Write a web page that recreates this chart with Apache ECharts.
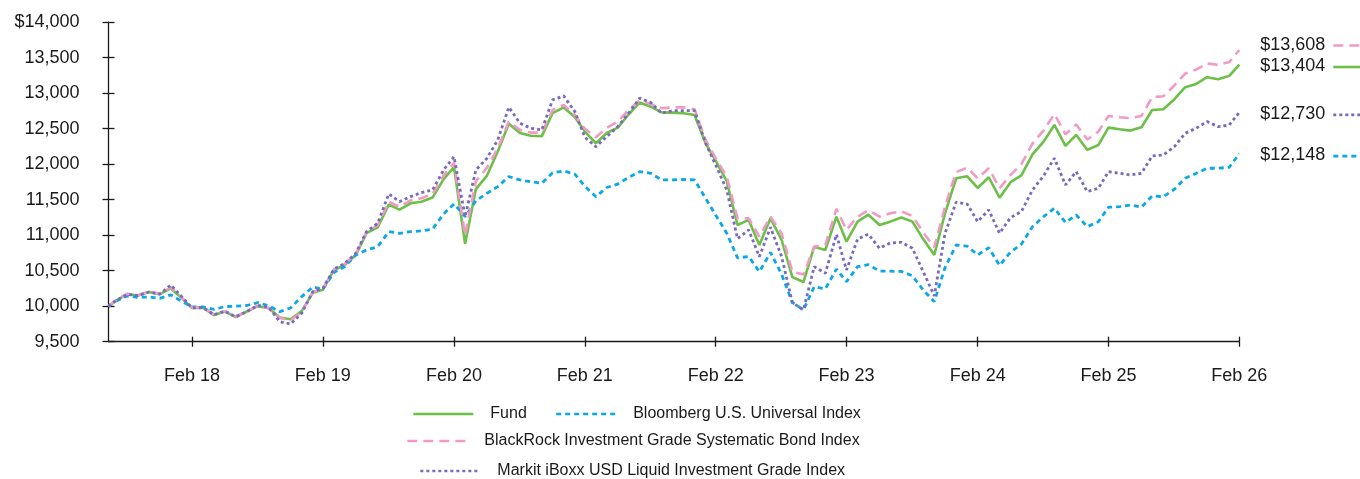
<!DOCTYPE html>
<html>
<head>
<meta charset="utf-8">
<script src="https://cdn.jsdelivr.net/npm/echarts@6/dist/echarts.min.js"></script>
<style>
  html, body { margin: 0; padding: 0; background: #fff; }
  #chart { width: 1360px; height: 479px; }
</style>
</head>
<body>
<div id="chart"></div>
<script>
// growth of $10,000, first point is the inception date, then month ends Jul 2017 .. Feb 2026
const inception = '2017-07-10'

const fund = [10000, 10080, 10170, 10150, 10200, 10170, 10250, 10110, 9975, 9980,
  9875, 9925, 9845, 9925, 10000, 9970, 9840, 9815, 9930, 10190,
  10230, 10510, 10580, 10720, 11030, 11110, 11430, 11360, 11450, 11470,
  11530, 11790, 11960, 10880, 11650, 11840, 12180, 12570, 12440, 12400,
  12395, 12720, 12800, 12665, 12460, 12295, 12440, 12515, 12700, 12870,
  12810, 12730, 12727, 12718, 12694, 12295, 12050, 11760, 11144, 11215,
  10862, 11238, 10933, 10410, 10340, 10839, 10792, 11261, 10909, 11191,
  11290, 11144, 11191, 11250, 11191, 10945, 10722, 11309, 11802, 11830,
  11665, 11816, 11528, 11747, 11842, 12138, 12318, 12553, 12257, 12412,
  12201, 12271, 12515, 12493, 12473, 12521, 12764, 12774, 12915, 13084,
  13131, 13225, 13197, 13244, 13404]

const bloomberg = [10000, 10070, 10145, 10125, 10130, 10110, 10160, 10065, 9990, 9990,
  9955, 9995, 10000, 10010, 10050, 10005, 9923, 9975, 10135, 10270,
  10240, 10475, 10557, 10722, 10792, 10838, 11050, 11027, 11050, 11060,
  11085, 11300, 11440, 11261, 11485, 11591, 11684, 11825, 11778, 11754,
  11731, 11880, 11905, 11860, 11690, 11543, 11672, 11720, 11813, 11895,
  11872, 11778, 11778, 11785, 11778, 11520, 11285, 11027, 10680, 10700,
  10486, 10757, 10450, 10052, 9947, 10275, 10245, 10522, 10345, 10557,
  10586, 10493, 10493, 10490, 10428, 10228, 10064, 10545, 10862, 10845,
  10722, 10823, 10574, 10764, 10874, 11120, 11261, 11380, 11180, 11285,
  11120, 11191, 11394, 11402, 11426, 11394, 11553, 11543, 11647, 11802,
  11872, 11943, 11943, 11957, 12148]

const blackrock = [10000, 10085, 10175, 10155, 10205, 10175, 10265, 10120, 9980, 9985,
  9885, 9930, 9855, 9930, 10010, 9975, 9835, 9800, 9920, 10200,
  10245, 10520, 10595, 10735, 11045, 11140, 11470, 11400, 11490, 11520,
  11580, 11840, 12020, 11000, 11760, 11950, 12225, 12600, 12483, 12445,
  12445, 12764, 12835, 12694, 12500, 12380, 12510, 12600, 12764, 12896,
  12849, 12788, 12800, 12800, 12774, 12342, 12084, 11825, 11240, 11238,
  10980, 11261, 11027, 10486, 10445, 10839, 10862, 11372, 11074, 11261,
  11350, 11261, 11309, 11335, 11270, 11040, 10830, 11402, 11890, 11950,
  11802, 11943, 11661, 11849, 12000, 12290, 12476, 12706, 12420, 12560,
  12347, 12460, 12680, 12662, 12648, 12680, 12945, 12956, 13110, 13277,
  13333, 13418, 13399, 13438, 13608]

const markit = [10000, 10080, 10165, 10150, 10200, 10170, 10299, 10130, 9975, 9980,
  9880, 9930, 9850, 9925, 10010, 9985, 9782, 9749, 9900, 10205,
  10252, 10520, 10604, 10745, 11050, 11168, 11581, 11473, 11543, 11600,
  11637, 11919, 12107, 11261, 11919, 12084, 12342, 12803, 12577, 12507,
  12483, 12906, 12962, 12741, 12380, 12247, 12388, 12529, 12718, 12930,
  12868, 12718, 12755, 12755, 12755, 12295, 11990, 11637, 10950, 11074,
  10698, 11112, 10698, 10050, 9947, 10557, 10464, 11010, 10510, 10945,
  11015, 10816, 10890, 10900, 10816, 10487, 10146, 11027, 11466, 11438,
  11191, 11356, 11027, 11250, 11332, 11637, 11837, 12084, 11708, 11895,
  11614, 11661, 11895, 11872, 11849, 11872, 12116, 12131, 12248, 12436,
  12507, 12600, 12529, 12553, 12730]

const tickLabels = ['Feb 18', 'Feb 19', 'Feb 20', 'Feb 21', 'Feb 22', 'Feb 23', 'Feb 24', 'Feb 25', 'Feb 26']
const tickYears = [2018, 2019, 2020, 2021, 2022, 2023, 2024, 2025, 2026]

const names = {
  fund: 'Fund',
  bloomberg: 'Bloomberg U.S. Universal Index',
  blackrock: 'BlackRock Investment Grade Systematic Bond Index',
  markit: 'Markit iBoxx USD Liquid Investment Grade Index'
}

const FONT = '"Liberation Sans", Arial, Helvetica, sans-serif'
const INK = '#1a1a1a'

// month end dates after the inception point (as timestamps on a linear axis)
const dates = [new Date(inception + 'T00:00:00').getTime()]
for (let i = 0; i < fund.length - 1; i++) {
  dates.push(new Date(2017, 7 + i, 0).getTime())
}
const tickValues = tickYears.map(y => new Date(y, 2, 0).getTime())

const pairs = (arr) => arr.map((v, i) => [dates[i], v])

const styles = [
  { key: 'fund', data: fund, color: '#6cbf47', width: 2.6, dash: 'solid', endDy: 0 },
  { key: 'bloomberg', data: bloomberg, color: '#0aa8e6', width: 2.8, dash: [5, 4], endDy: 0 },
  { key: 'blackrock', data: blackrock, color: '#f19ac5', width: 2.6, dash: [10, 6], endDy: -7 },
  { key: 'markit', data: markit, color: '#786bbd', width: 2.8, dash: [3, 3], endDy: 0 }
]

const chart = echarts.init(document.getElementById('chart'), null, { renderer: 'canvas' })

const xBase = {
  type: 'value',
  min: dates[0],
  max: dates[dates.length - 1],
  scale: true,
  splitLine: { show: false }
}
const yBase = {
  type: 'value',
  min: 9500,
  max: 14000,
  interval: 500,
  splitLine: { show: false }
}

const legendCommon = {
  itemWidth: 60,
  itemHeight: 14,
  itemGap: 28,
  selectedMode: false,
  itemStyle: { opacity: 0 },
  lineStyle: { width: 2.7 },
  textStyle: { fontFamily: FONT, fontSize: 16, color: INK, padding: [0, 0, 0, 12] }
}

const option = {
  animation: false,
  backgroundColor: '#fff',
  textStyle: { fontFamily: FONT },
  grid: { left: 108.5, right: 120.7, top: 22.2, bottom: 137.3, outerBoundsMode: 'none' },
  xAxis: [
    Object.assign({}, xBase, {
      axisLine: { lineStyle: { color: INK, width: 1.3 } },
      axisTick: { show: true, length: 5, lineStyle: { color: INK, width: 1.3 }, customValues: tickValues },
      axisLabel: {
        margin: 25,
        fontSize: 18,
        color: INK,
        fontFamily: FONT,
        customValues: tickValues,
        formatter: (v) => tickLabels[tickValues.indexOf(v)] || ''
      }
    }),
    Object.assign({}, xBase, {
      position: 'bottom',
      axisLine: { show: false },
      axisTick: { show: true, inside: true, length: 5, lineStyle: { color: INK, width: 1.3 }, customValues: tickValues },
      axisLabel: { show: false, customValues: tickValues }
    })
  ],
  yAxis: [
    Object.assign({}, yBase, {
      axisLine: { show: true, lineStyle: { color: INK, width: 1.3 } },
      axisTick: { show: true, length: 6, lineStyle: { color: INK, width: 1.3 } },
      axisLabel: {
        margin: 29,
        fontSize: 18,
        color: INK,
        fontFamily: FONT,
        formatter: (v) => (v === 14000 ? '$' : '') + v.toLocaleString('en-US')
      }
    }),
    Object.assign({}, yBase, {
      position: 'left',
      offset: 0,
      axisLine: { show: false },
      axisTick: { show: true, inside: true, length: 6, lineStyle: { color: INK, width: 1.3 } },
      axisLabel: { show: false }
    })
  ],
  legend: [
    Object.assign({}, legendCommon, { left: 407, top: 401, data: [names.fund, names.bloomberg] }),
    Object.assign({}, legendCommon, { left: 401, top: 428, data: [names.blackrock] }),
    Object.assign({}, legendCommon, { left: 414, top: 458, data: [names.markit] })
  ],
  series: styles.map(s => ({
    name: names[s.key],
    type: 'line',
    xAxisIndex: 0,
    yAxisIndex: 0,
    data: pairs(s.data),
    symbol: 'none',
    color: s.color,
    lineStyle: { color: s.color, width: s.width, type: s.dash, cap: 'butt' }
  }))
}

chart.setOption(option)

// value labels at the right end, each with a small line sample
const graphics = []
styles.forEach((s, i) => {
  const last = s.data.length - 1
  const p = chart.convertToPixel({ seriesIndex: i }, [dates[last], s.data[last]])
  const y = p[1] + s.endDy + 2.5
  graphics.push({
    type: 'text',
    left: p[0] + 21,
    top: y - 10,
    style: {
      text: '$' + s.data[last].toLocaleString('en-US'),
      font: '18px ' + FONT,
      fill: INK
    }
  })
  graphics.push({
    type: 'line',
    shape: { x1: p[0] + 94, y1: y, x2: 1362, y2: y },
    style: {
      stroke: s.color,
      lineWidth: s.width,
      lineDash: s.dash === 'solid' ? null : s.dash
    }
  })
})
chart.setOption({ graphic: graphics })
</script>
</body>
</html>
